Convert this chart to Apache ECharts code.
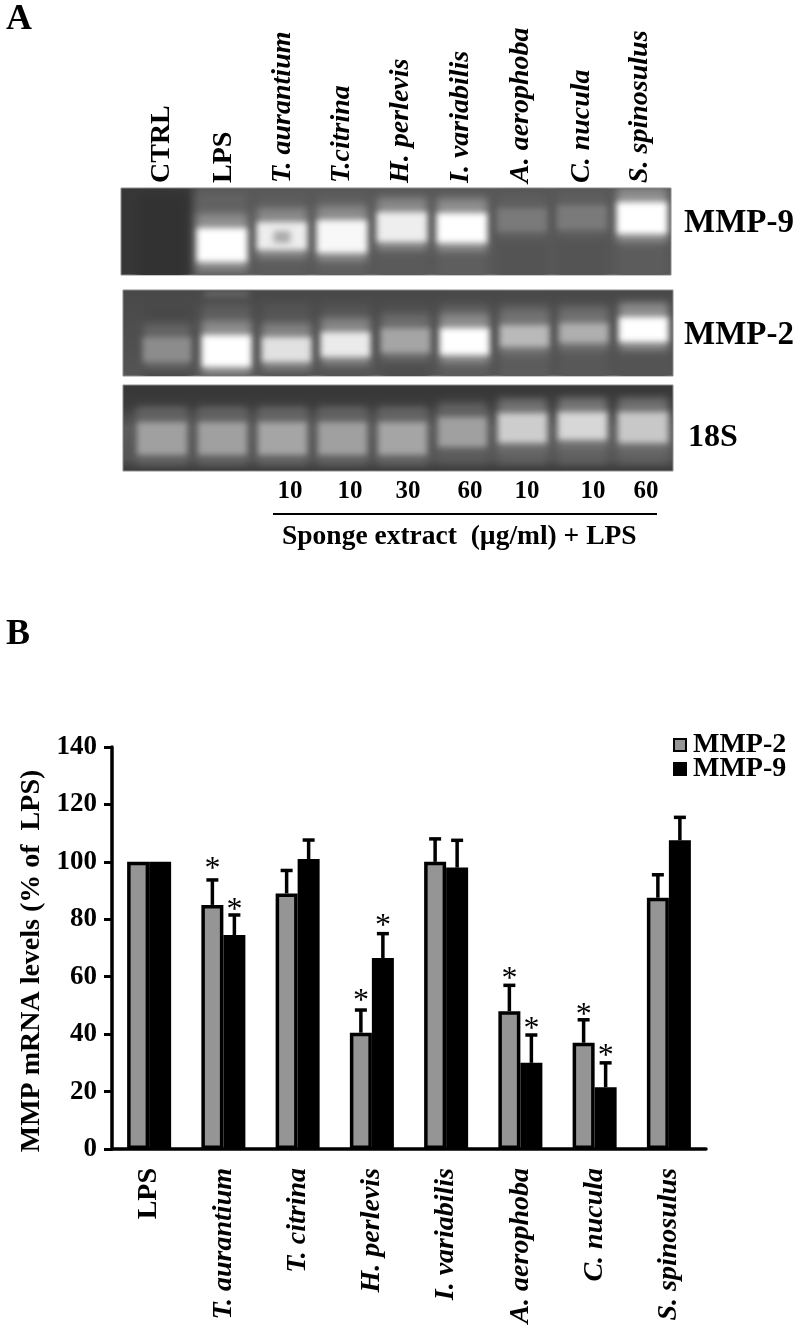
<!DOCTYPE html>
<html>
<head>
<meta charset="utf-8">
<title>MMP mRNA levels</title>
<script src="https://cdn.jsdelivr.net/npm/echarts@6/dist/echarts.min.js"></script>
<style>
  html, body { margin: 0; padding: 0; background: #fff; }
  #chart { width: 800px; height: 1329px; }
</style>
</head>
<body>
<div id="chart"></div>
<script>
// panel B: bars (% of LPS)
const categories = [
  'LPS', 'T. aurantium', 'T. citrina', 'H. perlevis',
  'I. variabilis', 'A. aerophoba', 'C. nucula', 'S. spinosulus'
];
const mmp2 = [100, 85, 89, 40.5, 100, 48, 37, 87.5];
const mmp9 = [100, 74.5, 101, 66.5, 98, 30, 21.5, 107.5];
const mmp2ErrTop = [null, 93.7, 97, 48.4, 108, 57, 45, 95.5];
const mmp9ErrTop = [null, 81.5, 107.6, 75, 107.5, 39.7, 30, 115.5];
const mmp2Star = [null, 99.6, null, 53.7, null, 61.3, 49, null];
const mmp9Star = [null, 85.4, null, 80, null, 44, 34.5, null];

// panel A: gel bands per lane (band edges in px of migration from the gel top, peak = grey level)
const gelLanes = [
  'CTRL', 'LPS', 'T. aurantium', 'T.citrina', 'H. perlevis',
  'I. variabilis', 'A. aerophoba', 'C. nucula', 'S. spinosulus'
];
const doseLabels = ['10', '10', '30', '60', '10', '10', '60'];

const mmp9Top = [null, 40, 34, 32, 24, 25, 20, 17, 14];
const mmp9Bottom = [null, 74, 62, 65, 54, 55, 44, 42, 46];
const mmp9Peak = [null, 255, 238, 248, 238, 255, 122, 122, 255];
const mmp9Smear = [50, 98, 92, 94, 90, 94, 84, 84, 92];
const mmp9DimSpot = [[2, 43, 55, 170]];

const mmp2Top = [47, 45, 47, 42, 38, 38, 35, 33, 27];
const mmp2Bottom = [72, 77, 72, 67, 63, 65, 57, 53, 52];
const mmp2Peak = [140, 255, 225, 235, 165, 255, 185, 175, 255];
const mmp2Smear = [72, 92, 84, 84, 78, 92, 92, 88, 84];
const mmp2FaintBand = [[1, 2, 6, 115]];

const s18Top = [37, 37, 37, 37, 37, 32, 28, 27, 27];
const s18Bottom = [70, 70, 70, 70, 70, 62, 58, 55, 58];
const s18Peak = [160, 160, 165, 160, 165, 160, 205, 215, 200];
const s18Smear = [88, 88, 88, 88, 88, 88, 96, 96, 96];

const FONT = '"Liberation Serif", "Times New Roman", serif';
const OFF = 3000; // rect is drawn off to the side, only its blurred shadow lands in the gel
const grey = (v) => `rgb(${v},${v},${v})`;

function gelRows(top, bottom, peak, smear) {
  return gelLanes.map((_, i) => [i, top[i], bottom[i], peak[i], smear[i]]);
}

function softRect(x, y, w, h, colour, blur) {
  return {
    type: 'rect',
    shape: { x: x - OFF, y, width: w, height: h },
    style: { fill: colour, shadowBlur: blur, shadowColor: colour, shadowOffsetX: OFF }
  };
}

// one lane: faint vertical smear, then halo, then the saturated core of the band
function renderBand(bg, smearTop, smearBottom) {
  return function (params, api) {
    const lane = api.value(0);
    const w = api.size([0.82, 0])[0];
    const x = api.coord([lane, 0])[0] - w / 2;
    const smearA = api.coord([lane, smearTop])[1];
    const smearB = api.coord([lane, smearBottom])[1];
    const children = [softRect(x, smearA, w, smearB - smearA, grey(api.value(4)), 8)];
    const peak = api.value(3);
    if (peak) {
      const y0 = api.coord([lane, api.value(1)])[1];
      const y1 = api.coord([lane, api.value(2)])[1];
      const halo = grey(Math.round(bg + (peak - bg) * 0.36));
      children.push(softRect(x, y0 - 14, w, y1 - y0 + 22, halo, 8));
      children.push(softRect(x, y0, w, y1 - y0, grey(peak), 6));
    }
    return { type: 'group', children };
  };
}

function renderSpot(widthLanes) {
  return function (params, api) {
    const w = api.size([widthLanes, 0])[0];
    const x = api.coord([api.value(0), 0])[0] - w / 2;
    const y0 = api.coord([0, api.value(1)])[1];
    const y1 = api.coord([0, api.value(2)])[1];
    return softRect(x, y0, w, y1 - y0, grey(api.value(3)), 6);
  };
}

// error bar + optional asterisk for one of the two bars in a group
function renderError(offset) {
  return function (params, api) {
    const i = api.value(0);
    const children = [];
    const x = api.coord([i, 0])[0] + offset;
    const base = api.coord([i, api.value(1)])[1];
    if (!isNaN(api.value(2))) {
      const top = api.coord([i, api.value(2)])[1];
      const st = { stroke: '#000', lineWidth: 3.5 };
      children.push({ type: 'line', shape: { x1: x, y1: base, x2: x, y2: top }, style: st });
      children.push({ type: 'line', shape: { x1: x - 6, y1: top, x2: x + 6, y2: top }, style: st });
    }
    if (!isNaN(api.value(3))) {
      children.push({
        type: 'text',
        x,
        y: api.coord([i, api.value(3)])[1] + 7,
        style: {
          text: '*', fill: '#000', font: '400 32px ' + FONT,
          textAlign: 'center', textVerticalAlign: 'middle'
        }
      });
    }
    return { type: 'group', children };
  };
}

function gelSeries(idx, bg, rows, smearTop, smearBottom) {
  return {
    type: 'custom',
    name: 'gel' + idx,
    xAxisIndex: idx,
    yAxisIndex: idx,
    clip: true,
    silent: true,
    renderItem: renderBand(bg, smearTop, smearBottom),
    data: rows,
    encode: { x: 0, y: 1 }
  };
}

function spotSeries(idx, rows, widthLanes) {
  return {
    type: 'custom',
    name: 'spot' + idx,
    xAxisIndex: idx,
    yAxisIndex: idx,
    clip: true,
    silent: true,
    z: 3,
    renderItem: renderSpot(widthLanes),
    data: rows,
    encode: { x: 0, y: 1 }
  };
}

function hiddenX(idx, min, max) {
  return { type: 'value', gridIndex: idx, min, max, show: false };
}
function hiddenY(idx, h) {
  return { type: 'value', gridIndex: idx, min: 0, max: h, inverse: true, show: false };
}
function gelGrid(left, top, width, height, bg) {
  return {
    left, top, width, height, show: true,
    backgroundColor: bg, borderColor: '#8c8c8c', borderWidth: 1
  };
}

function boldText(text, x, y, size, extra) {
  return {
    type: 'text', x, y,
    rotation: extra && extra.rotation ? extra.rotation : 0,
    style: {
      text, fill: '#000',
      font: `${extra && extra.italic ? 'italic ' : ''}bold ${size}px ${FONT}`,
      textAlign: extra && extra.align ? extra.align : 'left',
      textVerticalAlign: 'middle'
    }
  };
}

const laneTextX = [162, 224, 283, 342, 401, 461, 521, 582, 640];
const doseTextX = [290, 350, 408, 470, 527, 593, 646];
const graphics = [
  boldText('A', 6, 20, 36),
  boldText('B', 6, 635, 36),
  boldText('MMP-9', 684, 223, 33),
  boldText('MMP-2', 684, 335, 33),
  boldText('18S', 688, 438, 32),
  boldText('Sponge extract  (\u00b5g/ml) + LPS', 282, 537, 27.5),
  {
    type: 'line',
    shape: { x1: 273, y1: 514, x2: 657, y2: 514 },
    style: { stroke: '#000', lineWidth: 2 }
  }
];
gelLanes.forEach((name, i) => {
  graphics.push(boldText(name, laneTextX[i], 183, 28, {
    rotation: Math.PI / 2,
    italic: i > 1
  }));
});
doseLabels.forEach((d, i) => {
  graphics.push(boldText(d, doseTextX[i], 492, 25, { align: 'center' }));
});

const gel9Bg = new echarts.graphic.LinearGradient(0, 0, 1, 0, [
  { offset: 0, color: grey(54) },
  { offset: 0.12, color: grey(56) },
  { offset: 0.145, color: grey(88) },
  { offset: 1, color: grey(86) }
]);
const gel2Bg = new echarts.graphic.LinearGradient(0, 0, 0, 1, [
  { offset: 0, color: grey(72) },
  { offset: 1, color: grey(84) }
]);
const gel18Bg = new echarts.graphic.LinearGradient(0, 0, 0, 1, [
  { offset: 0, color: grey(54) },
  { offset: 0.25, color: grey(60) },
  { offset: 0.5, color: grey(92) },
  { offset: 0.85, color: grey(84) },
  { offset: 1, color: grey(56) }
]);

const option = {
  animation: false,
  backgroundColor: '#fff',
  textStyle: { fontFamily: FONT },
  legend: {
    data: [{ name: 'MMP-2', icon: 'rect' }, { name: 'MMP-9', icon: 'rect' }],
    orient: 'vertical',
    left: 673,
    top: 731,
    itemWidth: 12,
    itemHeight: 12,
    itemGap: -4,
    padding: 0,
    itemStyle: { borderWidth: 2 },
    textStyle: {
      color: '#000', fontSize: 28, fontWeight: 'bold', fontFamily: FONT,
      lineHeight: 28, padding: [0, 0, 0, 2]
    }
  },
  grid: [
    { left: 112, right: 94, top: 747, bottom: 180 },
    gelGrid(121, 188, 550, 87, gel9Bg),
    gelGrid(123, 290, 550, 86, gel2Bg),
    gelGrid(123, 385, 550, 86, gel18Bg)
  ],
  xAxis: [
    {
      type: 'category',
      gridIndex: 0,
      data: categories.map((c, i) => ({
        value: c,
        textStyle: { fontStyle: i === 0 ? 'normal' : 'italic' }
      })),
      axisLine: { lineStyle: { color: '#000', width: 3.5 } },
      axisTick: { show: false },
      axisLabel: {
        rotate: 90, margin: 19, interval: 0, color: '#000',
        fontSize: 28, fontWeight: 'bold', fontFamily: FONT
      }
    },
    hiddenX(1, -0.683, 8.483),
    hiddenX(2, -0.74, 8.5),
    hiddenX(3, -0.65, 8.5)
  ],
  yAxis: [
    {
      type: 'value',
      gridIndex: 0,
      min: 0,
      max: 140,
      interval: 20,
      name: 'MMP mRNA levels (% of  LPS)',
      nameLocation: 'middle',
      nameGap: 66,
      nameTextStyle: {
        color: '#000', fontSize: 28, fontWeight: 'bold', fontFamily: FONT,
        padding: [0, 26, 0, 0]
      },
      splitLine: { show: false },
      axisLine: { show: true, lineStyle: { color: '#000', width: 3.5 } },
      axisTick: { show: true, length: 8, lineStyle: { color: '#000', width: 3 } },
      axisLabel: {
        color: '#000', fontSize: 27, fontWeight: 'bold', fontFamily: FONT, margin: 15
      }
    },
    hiddenY(1, 87),
    hiddenY(2, 86),
    hiddenY(3, 86)
  ],
  graphic: { elements: graphics },
  series: [
    {
      name: 'MMP-2',
      type: 'bar',
      data: mmp2,
      barWidth: 22,
      barGap: 0,
      itemStyle: { color: '#959595', borderColor: '#000', borderWidth: 3.5 }
    },
    {
      name: 'MMP-9',
      type: 'bar',
      data: mmp9,
      barWidth: 22,
      barGap: 0,
      itemStyle: { color: '#000', borderColor: '#000', borderWidth: 3.5 }
    },
    {
      type: 'custom',
      name: 'err2',
      renderItem: renderError(-11),
      data: categories.map((_, i) => [i, mmp2[i], mmp2ErrTop[i] ?? NaN, mmp2Star[i] ?? NaN]),
      encode: { x: 0, y: 2 },
      silent: true,
      z: 5
    },
    {
      type: 'custom',
      name: 'err9',
      renderItem: renderError(11),
      data: categories.map((_, i) => [i, mmp9[i], mmp9ErrTop[i] ?? NaN, mmp9Star[i] ?? NaN]),
      encode: { x: 0, y: 2 },
      silent: true,
      z: 5
    },
    gelSeries(1, 78, gelRows(mmp9Top, mmp9Bottom, mmp9Peak, mmp9Smear), 5, 95),
    gelSeries(2, 76, gelRows(mmp2Top, mmp2Bottom, mmp2Peak, mmp2Smear), 14, 95),
    gelSeries(3, 62, gelRows(s18Top, s18Bottom, s18Peak, s18Smear), 24, 78),
    spotSeries(1, mmp9DimSpot, 0.28),
    spotSeries(2, mmp2FaintBand, 0.75)
  ]
};

const chart = echarts.init(document.getElementById('chart'), null, { renderer: 'canvas' });
chart.setOption(option);
window.addEventListener('resize', () => chart.resize());
</script>
</body>
</html>
